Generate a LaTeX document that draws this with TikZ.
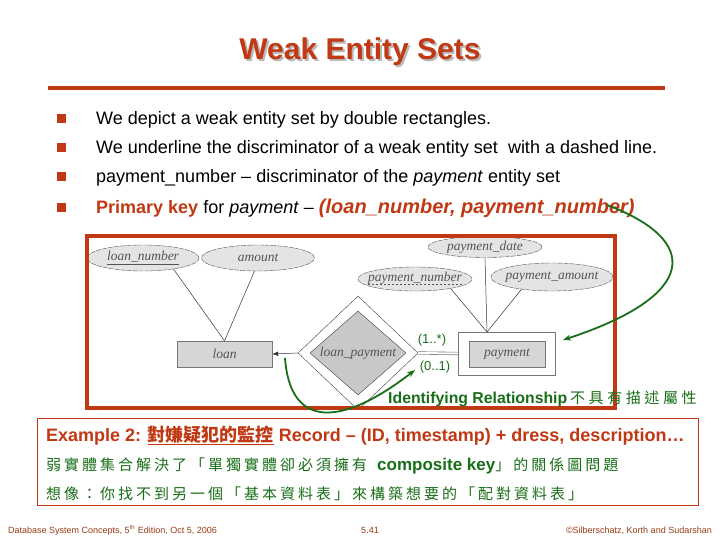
\documentclass[tikz,border=0pt]{standalone}
\usepackage{fontspec}
\setmainfont{Liberation Sans}
\newfontfamily\serifit{Liberation Serif}
\newfontfamily\cjk{Noto Sans CJK TC}
\usetikzlibrary{shapes.geometric,arrows.meta}
\definecolor{ored}{RGB}{192,57,20}
\definecolor{dgreen}{RGB}{25,110,25}
\definecolor{efill}{RGB}{228,228,228}
\definecolor{rfill}{RGB}{214,214,214}
\definecolor{dfill}{RGB}{200,200,200}
\definecolor{egray}{RGB}{85,85,85}
\definecolor{lgray}{RGB}{120,120,120}
\definecolor{foot}{RGB}{150,60,20}
\tikzset{
  bulletbox/.style={rectangle, fill=ored, minimum size=9pt, inner sep=0pt},
  bodytext/.style={anchor=base west, inner sep=0pt, font=\fontsize{18}{20}\selectfont},
  attr/.style={ellipse, draw=egray, dash pattern=on 5pt off 1pt, line width=0.4pt, fill=efill, inner sep=0pt},
  erlab/.style={inner sep=0pt, text=egray, font=\serifit\itshape\fontsize{13.5}{14}\selectfont},
  erline/.style={draw=black!80, line width=0.5pt},
  card/.style={inner sep=0pt, text=dgreen, font=\fontsize{13}{14}\selectfont},
  greencurve/.style={draw=dgreen, line width=1.8pt, -{Stealth[length=8pt,width=6pt]}},
  cjktext/.style={anchor=base west, inner sep=0pt, text=dgreen},
  foottext/.style={anchor=base, inner sep=0pt, text=foot, font=\fontsize{9}{10}\selectfont}
}
\newcommand{\cjkline}[1]{{\cjk\fontsize{15}{17}\selectfont\addfontfeature{LetterSpace=20}#1}}
\begin{document}
\begin{tikzpicture}[x=1pt,y=-1pt]
\useasboundingbox[fill=white] (0,0) rectangle (720,540);

% title
\node[anchor=base, inner sep=0pt, text=gray!55, font=\bfseries\fontsize{30}{32}\selectfont] (titleshadow) at (362,62) {Weak Entity Sets};
\node[anchor=base, inner sep=0pt, text=ored, font=\bfseries\fontsize{30}{32}\selectfont] (title) at (360,60) {Weak Entity Sets};
\draw[ored, line width=4pt] (48,88.5) -- (665,88.5);

% bullets
\node[bulletbox] (b1) at (61.5,119) {};
\node[bulletbox] (b2) at (61.5,148) {};
\node[bulletbox] (b3) at (61.5,177) {};
\node[bulletbox] (b4) at (61.5,208) {};
\node[bodytext] (t1) at (96,125) {We depict a weak entity set by double rectangles.};
\node[bodytext] (t2) at (96,154) {We underline the discriminator of a weak entity set\ \ with a dashed line.};
\node[bodytext] (t3) at (96,183) {payment\_number -- discriminator of the \textit{payment} entity set};
\node[bodytext] (t4) at (96,214) {{\color{ored}\bfseries Primary key} for \textit{payment} -- {\fontsize{20}{22}\selectfont\color{ored}\bfseries\itshape (loan\_number, payment\_number)}};

% ER diagram
\node[attr, minimum width=112pt, minimum height=26pt] (ln) at (143,258) {};
\node[erlab] at (143,258) {\underline{loan\_number}};
\node[attr, minimum width=113pt, minimum height=26pt] (am) at (258,258) {};
\node[erlab] at (258,258) {amount};
\node[attr, minimum width=114pt, minimum height=21pt] (pd) at (485,247) {};
\node[erlab] at (485,247) {payment\_date};
\node[attr, minimum width=114pt, minimum height=24pt] (pn) at (415,279) {};
\node[erlab] (pnt) at (415,278) {payment\_number};
\draw[egray, dash pattern=on 2.5pt off 1.5pt, line width=0.5pt] ([yshift=-3pt]pnt.base west) -- ([yshift=-3pt]pnt.base east);
\node[attr, minimum width=122pt, minimum height=28pt] (pa) at (552,277) {};
\node[erlab] at (552,277) {payment\_amount};

\node[rectangle, draw=lgray, fill=rfill, minimum width=95pt, minimum height=26pt, inner sep=0pt] (loan) at (224.5,354) {};
\node[erlab] at (224.5,354) {loan};

\node[diamond, draw=black!75, fill=white, minimum width=120pt, minimum height=114pt, inner sep=0pt] (lpo) at (358,353) {};
\node[diamond, draw=black!75, fill=dfill, minimum width=96pt, minimum height=84pt, inner sep=0pt] (lp) at (358,353) {};
\node[erlab] at (358,353) {loan\_payment};

\node[rectangle, draw=lgray, fill=white, minimum width=97pt, minimum height=43pt, inner sep=0pt] (payo) at (506.5,353.5) {};
\node[rectangle, draw=lgray, fill=rfill, minimum width=76pt, minimum height=26pt, inner sep=0pt] (pay) at (507,354) {};
\node[erlab] at (507,354) {payment};

\coordinate (pc) at (487,332);
\draw[erline] (ln.-20) -- (loan.north);
\draw[erline] (am.-105) -- (loan.north);
\draw[erline] (pd.south) -- (pc);
\draw[erline] (pn.-15) -- (pc);
\draw[erline] (pa.-158) -- (pc);
\draw[erline, -{Latex[length=6pt,width=4.5pt]}] (lpo.west) -- (loan.east);
\draw[lgray, double=white, double distance=2pt, line width=0.6pt] (lpo.east) -- (payo.west);

\node[card] (c1) at (432,340) {(1..*)};
\node[card] (c2) at (435,367) {(0..1)};

% frame
\draw[ored, line width=4pt] (87,236) rectangle (615,408);

% green curves
\coordinate (g1s) at (607,205);
\coordinate (g1e) at (563,340);
\coordinate (g2s) at (285,358);
\coordinate (g2e) at (415,370);
\draw[greencurve] (g1s) .. controls (700,240) and (700,295) .. (g1e);
\draw[greencurve] (g2s) .. controls (290,428) and (340,428) .. (g2e);

\node[cjktext] (idrel) at (388,403) {{\bfseries\fontsize{15.8}{19}\selectfont Identifying Relationship}\ {\cjk\fontsize{15}{17}\selectfont\addfontfeature{LetterSpace=24}不具有描述屬性}};

% example box
\draw[ored, line width=0.8pt] (37,418) rectangle (698,505);
\node[anchor=base west, inner sep=0pt, text=ored, font=\bfseries\fontsize{18}{19}\selectfont] (ex) at (46,441) {Example 2: \underline{\cjk\bfseries 對嫌疑犯的監控} Record -- (ID, timestamp) + dress, description…};
\node[cjktext] (l2) at (46,470) {\cjkline{弱實體集合解決了「單獨實體卻必須擁有}\hspace{10pt}{\bfseries\fontsize{17}{19}\selectfont composite key}\cjkline{」的關係圖問題}};
\node[cjktext] (l3) at (46,499) {\cjkline{想像：你找不到另一個「基本資料表」來構築想要的「配對資料表」}};

% footer
\node[foottext, anchor=base west] (f1) at (8,533) {Database System Concepts, 5\textsuperscript{th} Edition, Oct 5, 2006};
\node[foottext] (f2) at (370,533) {5.41};
\node[foottext, anchor=base east] (f3) at (712,533) {©Silberschatz, Korth and Sudarshan};
\end{tikzpicture}
\end{document}
